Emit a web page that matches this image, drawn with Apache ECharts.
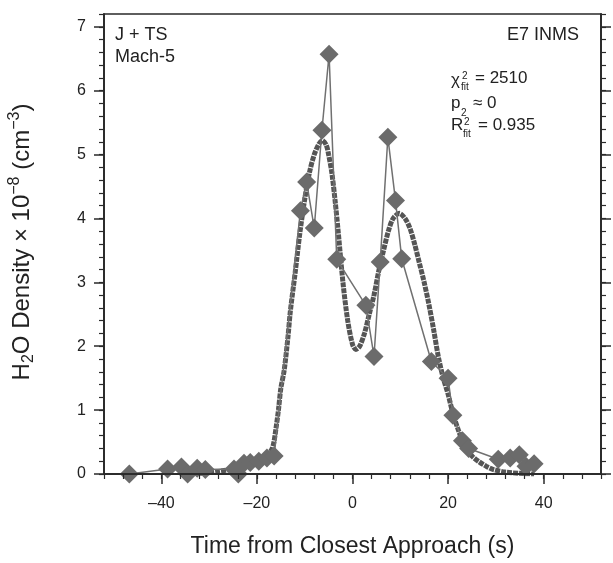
<!DOCTYPE html>
<html>
<head>
<meta charset="utf-8">
<script src="https://cdn.jsdelivr.net/npm/echarts@6/dist/echarts.min.js"></script>
<style>
html,body{margin:0;padding:0;background:#fff;}
#chart{width:613px;height:563px;}
</style>
</head>
<body>
<div id="chart"></div>
<script>
// ---- data ----
const dataTime = [-46.7,-38.7,-35.8,-34.5,-32.5,-30.8,-24.8,-23.9,-22.7,-21.4,-19.6,-17.9,-16.4,-10.9,-9.6,-8.0,-6.4,-4.9,-3.3,2.8,4.5,5.8,7.4,9.0,10.3,16.5,20.0,21.0,23.0,24.3,30.5,33.0,34.9,36.3,38.0];
const dataDensity = [0.0,0.08,0.11,0.0,0.09,0.07,0.08,0.0,0.17,0.18,0.2,0.25,0.28,4.12,4.57,3.85,5.38,6.57,3.36,2.64,1.84,3.32,5.27,4.28,3.37,1.76,1.5,0.92,0.52,0.4,0.23,0.25,0.3,0.12,0.16];

const fitTime = [-35,-30,-28,-25,-23,-21,-19,-18,-17,-16.5,-16,-15.5,-15,-14.3,-13.5,-13,-12,-11,-10,-9,-8,-7,-6.3,-5.5,-5,-4.3,-3.6,-3,-2,-1,0,0.7,1.5,2.5,3.5,4.5,5.5,6.5,7.5,8.5,9.8,11,12,13,14,15,16,17,18,19,20,21,22,23,24,25,26.5,28,29.5,32,35,38];
const fitDensity = [0,0.02,0.04,0.08,0.12,0.17,0.23,0.29,0.37,0.48,0.72,1.0,1.34,1.62,2.15,2.55,3.15,3.78,4.3,4.72,5.0,5.17,5.22,5.15,5.0,4.7,4.25,3.8,3.0,2.4,2.03,1.95,2.0,2.2,2.5,2.8,3.18,3.5,3.8,4.0,4.08,4.0,3.85,3.6,3.3,3.0,2.65,2.25,1.82,1.5,1.25,0.95,0.72,0.52,0.38,0.28,0.19,0.12,0.07,0.03,0.01,0.0];

const xTickLabels = [-40,-20,0,20,40];
const yTickLabels = [0,1,2,3,4,5,6,7];
const xRange = [-52, 52];
const yRange = [0, 7.2];

// minor tick positions (every 4 s on x, every 0.2 on y)
const xMinor = [];
for (let v = xRange[0]; v <= xRange[1] + 1e-9; v += 4) xMinor.push(Math.round(v*1000)/1000);
const yMinor = [];
for (let i = 0; i <= 36; i++) yMinor.push(Math.round(i*0.2*1000)/1000);

const FONT = 'Liberation Sans, Arial, sans-serif';
const AX = '#2a2a2a';
const TXT = '#222';
const GRAY = '#6b6b6b';

const chart = echarts.init(document.getElementById('chart'), null, {renderer:'canvas'});

function baseX(extra){
  return Object.assign({
    type:'value', min:xRange[0], max:xRange[1], gridIndex:0, position:'bottom',
    splitLine:{show:false}, z:5,
    axisLine:{show:true, onZero:false, lineStyle:{color:AX, width:1.5}},
  }, extra);
}
function baseY(extra){
  return Object.assign({
    type:'value', min:yRange[0], max:yRange[1], gridIndex:0,
    splitLine:{show:false}, z:5,
    axisLine:{show:true, onZero:false, lineStyle:{color:AX, width:1.5}},
  }, extra);
}

const option = {
  animation:false,
  backgroundColor:'#fff',
  grid:{left:104, right:12, top:14, bottom:87, show:true, borderColor:AX, borderWidth:1.5, backgroundColor:'transparent'},
  xAxis:[
    baseX({
      axisTick:{show:true, inside:false, length:10, customValues:xTickLabels, lineStyle:{color:AX,width:1.5}},
      axisLabel:{show:true, customValues:xTickLabels, margin:22, fontSize:16, fontFamily:FONT, color:TXT,
        formatter:v => (v<0 ? '\u2013'+Math.abs(v) : String(v))},
      name:'Time from Closest Approach (s)', nameLocation:'middle', nameGap:61,
      nameTextStyle:{fontSize:23, fontFamily:FONT, color:TXT}
    }),
    baseX({
      axisTick:{show:true, inside:false, length:5, customValues:xMinor, lineStyle:{color:AX,width:1.2}},
      axisLabel:{show:false}
    })
  ],
  yAxis:[
    baseY({position:'left',
      axisTick:{show:true, inside:false, length:10, customValues:yTickLabels, lineStyle:{color:AX,width:1.5}},
      axisLabel:{show:true, customValues:yTickLabels, margin:18, fontSize:16, fontFamily:FONT, color:TXT}
    }),
    baseY({position:'left',
      axisTick:{show:true, inside:false, length:5, customValues:yMinor, lineStyle:{color:AX,width:1.2}},
      axisLabel:{show:false}
    }),
    baseY({position:'right',
      axisTick:{show:true, inside:false, length:10, customValues:yTickLabels, lineStyle:{color:AX,width:1.5}},
      axisLabel:{show:false}
    }),
    baseY({position:'right',
      axisTick:{show:true, inside:false, length:5, customValues:yMinor, lineStyle:{color:AX,width:1.2}},
      axisLabel:{show:false}
    })
  ],
  series:[
    {
      name:'fit', type:'line', xAxisIndex:0, yAxisIndex:0,
      data: fitTime.map((t,i)=>[t, fitDensity[i]]),
      showSymbol:false, symbol:'none', smooth:0.3, clip:true, z:2,
      lineStyle:{color:'#555', width:5, type:[5,1]}
    },
    {
      name:'data', type:'line', xAxisIndex:0, yAxisIndex:0,
      data: dataTime.map((t,i)=>[t, dataDensity[i]]),
      symbol:'diamond', symbolSize:[19,19], showSymbol:true, clip:false, z:3,
      itemStyle:{color:GRAY}, lineStyle:{color:'#707070', width:1.5}
    }
  ],
  graphic:[
    {type:'text', x:22, y:242, rotation:Math.PI/2, z:10,
      style:{
        text:'{n|H}{sub|2}{n|O Density \u00d7 10}{sup|\u22128}{n| (cm}{sup|\u22123}{n|)}',
        align:'center', verticalAlign:'middle', fill:TXT,
        rich:{
          n:{fontSize:24, fontFamily:FONT, lineHeight:30, fill:TXT},
          sub:{fontSize:16, fontFamily:FONT, lineHeight:15, verticalAlign:'bottom', fill:TXT},
          sup:{fontSize:16, fontFamily:FONT, lineHeight:15, verticalAlign:'top', fill:TXT}
        }
      }},
    {type:'text', x:115, y:35, z:10, style:{text:'J + TS', font:'18px '+FONT, fill:TXT, verticalAlign:'middle'}},
    {type:'text', x:115, y:57, z:10, style:{text:'Mach-5', font:'18px '+FONT, fill:TXT, verticalAlign:'middle'}},
    {type:'text', x:579, y:35, z:10, style:{text:'E7 INMS', font:'18px '+FONT, fill:TXT, align:'right', verticalAlign:'middle'}},
    // chi^2 fit
    {type:'text', x:451, y:80, z:10, style:{text:'\u03c7', font:'17px '+FONT, fill:TXT, verticalAlign:'middle'}},
    {type:'text', x:462, y:76, z:10, style:{text:'2', font:'10px '+FONT, fill:TXT, verticalAlign:'middle'}},
    {type:'text', x:461, y:87, z:10, style:{text:'fit', font:'10px '+FONT, fill:TXT, verticalAlign:'middle'}},
    {type:'text', x:475, y:78, z:10, style:{text:'= 2510', font:'17px '+FONT, fill:TXT, verticalAlign:'middle'}},
    // p2
    {type:'text', x:451, y:103, z:10, style:{text:'p', font:'17px '+FONT, fill:TXT, verticalAlign:'middle'}},
    {type:'text', x:461, y:113, z:10, style:{text:'2', font:'10px '+FONT, fill:TXT, verticalAlign:'middle'}},
    {type:'text', x:473, y:103, z:10, style:{text:'\u2248 0', font:'17px '+FONT, fill:TXT, verticalAlign:'middle'}},
    // R^2 fit
    {type:'text', x:451, y:125, z:10, style:{text:'R', font:'17px '+FONT, fill:TXT, verticalAlign:'middle'}},
    {type:'text', x:464, y:122, z:10, style:{text:'2', font:'10px '+FONT, fill:TXT, verticalAlign:'middle'}},
    {type:'text', x:463, y:134, z:10, style:{text:'fit', font:'10px '+FONT, fill:TXT, verticalAlign:'middle'}},
    {type:'text', x:478, y:125, z:10, style:{text:'= 0.935', font:'17px '+FONT, fill:TXT, verticalAlign:'middle'}}
  ]
};
chart.setOption(option);
</script>
</body>
</html>
